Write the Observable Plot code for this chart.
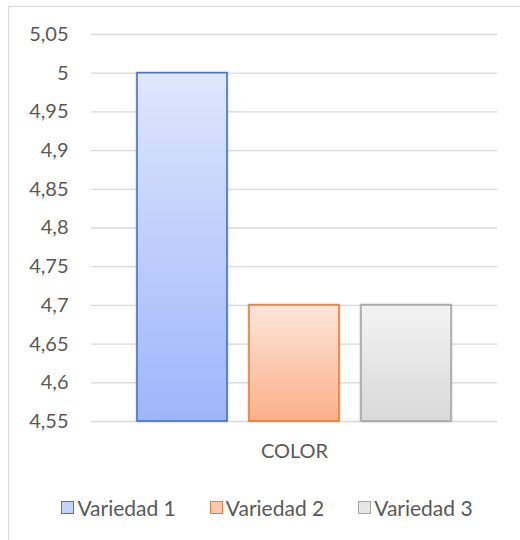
<!DOCTYPE html>
<html>
<head>
<meta charset="utf-8">
<script src="https://cdn.jsdelivr.net/npm/d3@7"></script>
<script src="https://cdn.jsdelivr.net/npm/@observablehq/plot@0.6"></script>
<style>
  html, body { margin: 0; padding: 0; background: #fff; overflow: hidden; }
  body { width: 520px; height: 540px; position: relative; font-family: Lato, "Open Sans", sans-serif; }
  .frame { position: absolute; left: 8px; top: 6px; width: 1000px; height: 1000px; border-left: 1px solid #d9d9d9; border-top: 1px solid #d9d9d9; pointer-events: none; }
  #chart { position: relative; }
  .legend { display: flex; justify-content: center; gap: 34px; font-size: 21px; color: #595959; margin-top: 16px; line-height: 23px; padding-left: 14px; }
  .legend .item { display: flex; align-items: center; gap: 3px; }
  .legend .sw { width: 13px; height: 13px; border: 1.5px solid; box-sizing: border-box; }
</style>
</head>
<body>
<svg width="0" height="0" style="position:absolute">
  <defs>
    <linearGradient id="g1" x1="0" y1="0" x2="0" y2="1">
      <stop offset="0" stop-color="#dfe7fc"/><stop offset="1" stop-color="#9db5fb"/>
    </linearGradient>
    <linearGradient id="g2" x1="0" y1="0" x2="0" y2="1">
      <stop offset="0" stop-color="#fde6da"/><stop offset="1" stop-color="#fbaf88"/>
    </linearGradient>
    <linearGradient id="g3" x1="0" y1="0" x2="0" y2="1">
      <stop offset="0" stop-color="#f3f3f3"/><stop offset="1" stop-color="#d9d9d9"/>
    </linearGradient>
    <filter id="sh" x="-10%" y="-10%" width="120%" height="120%">
      <feDropShadow dx="0" dy="0" stdDeviation="1.2" flood-color="#000" flood-opacity="0.25"/>
    </filter>
  </defs>
</svg>
<div class="frame"></div>
<div id="chart"></div>
<div class="legend" id="legend"></div>
<script>
const categories = ["COLOR"];
const series = ["Variedad 1", "Variedad 2", "Variedad 3"];
const values = [5.0, 4.7, 4.7];
const yTicks = [4.55, 4.6, 4.65, 4.7, 4.75, 4.8, 4.85, 4.9, 4.95, 5.0, 5.05];
const fills = ["url(#g1)", "url(#g2)", "url(#g3)"];
const strokes = ["#4472c4", "#ed7d31", "#a5a5a5"];
const swatchFills = ["#c5d3fb", "#fccab0", "#e6e6e6"];

const data = series.map((s, i) => ({
  category: categories[0], series: s, value: values[i], fill: fills[i], stroke: strokes[i]
}));
const yMin = yTicks[0], yMax = yTicks[yTicks.length - 1];
const fmt = d => String(+d.toFixed(2)).replace(".", ",");

const chart = Plot.plot({
  width: 520,
  height: 480,
  marginTop: 34,
  marginLeft: 91,
  marginRight: 23,
  marginBottom: 59,
  style: { fontFamily: "Lato, 'Open Sans', sans-serif", fontSize: "20px", color: "#595959", background: "transparent" },
  fx: { padding: 0, label: null, axis: "bottom", tickSize: 0, tickPadding: 22 },
  x: { domain: series, paddingInner: 0.195, paddingOuter: 0.394, axis: null },
  y: { domain: [yMin, yMax], ticks: yTicks, tickFormat: fmt, tickSize: 0, tickPadding: 23, label: null },
  color: { type: "identity" },
  marks: [
    Plot.ruleY(yTicks, { stroke: "#d9d9d9", strokeWidth: 1.3, strokeOpacity: 1 }),
    Plot.barY(data, {
      fx: "category", x: "series", y1: () => yMin, y2: "value",
      fill: "fill", stroke: "stroke", strokeWidth: 1.6, filter: null
    })
  ]
});
chart.querySelectorAll("g[aria-label='bar'] rect").forEach(r => r.setAttribute("filter", "url(#sh)"));
chart.querySelectorAll("g[aria-label='y-axis tick label'] text, g[aria-label='fx-axis tick label'] text").forEach(t => t.setAttribute("fill", "#595959"));
document.getElementById("chart").appendChild(chart);

const legend = document.getElementById("legend");
series.forEach((s, i) => {
  const item = document.createElement("div");
  item.className = "item";
  const sw = document.createElement("span");
  sw.className = "sw";
  sw.style.borderColor = strokes[i];
  sw.style.background = swatchFills[i];
  const tx = document.createElement("span");
  tx.textContent = s;
  item.appendChild(sw); item.appendChild(tx);
  legend.appendChild(item);
});
</script>
</body>
</html>
